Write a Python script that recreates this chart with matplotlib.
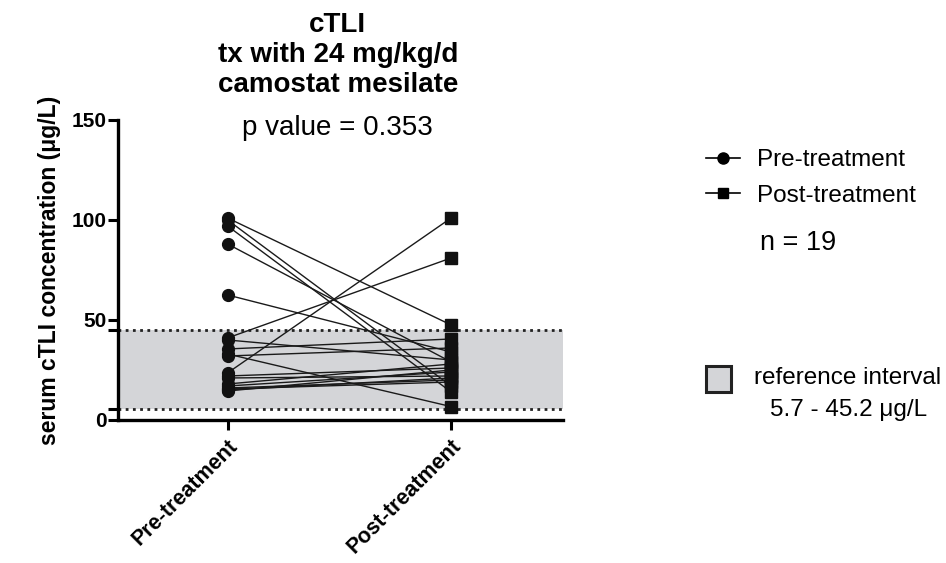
import numpy as np
import matplotlib
matplotlib.use('Agg')
import matplotlib.pyplot as plt
from matplotlib.lines import Line2D
from matplotlib.patches import Rectangle

plt.rcParams['font.family'] = ['Liberation Sans', 'DejaVu Sans']

# cTLI (ug/L) per patient, paired pre/post
groups = ['Pre-treatment', 'Post-treatment']
pre = [101, 100, 97, 88, 62.5, 41, 40, 35.5, 33, 32, 23.5, 22, 21, 18, 17, 16, 15.5, 15, 14.5]
post = [47.5, 17, 14, 29, 34, 81, 30, 40.5, 6.7, 36, 101, 26, 22, 28, 24, 20, 19, 21, 25]
ref_lo, ref_hi = 5.7, 45.2
yticks = [0, 50, 100, 150]
title_lines = ['cTLI', 'tx with 24 mg/kg/d', 'camostat mesilate']

fig = plt.figure(figsize=(9.46, 5.63), dpi=100)
ax = fig.add_axes([0.1247, 0.254, 0.4704, 0.533])

# reference interval band
ax.axhspan(ref_lo, ref_hi, color='#d4d5d8', zorder=0, lw=0)
for v in (ref_lo, ref_hi):
    ax.axhline(v, color='#222222', ls=(0, (1, 1.6)), lw=2.0, zorder=1)

for a, b in zip(pre, post):
    ax.plot([0, 1], [a, b], color='#1a1a1a', lw=1.0, zorder=2)
ax.plot(np.zeros(len(pre)), pre, 'o', color='#111111', ms=8.5, zorder=3)
ax.plot(np.ones(len(post)), post, 's', color='#111111', ms=8, zorder=3)

ax.set_xlim(-0.49, 1.5)
ax.set_ylim(0, 150)
ax.set_yticks(yticks + [ref_lo, ref_hi])
ax.set_yticklabels([str(t) for t in yticks] + ['', ''])
ax.set_xticks([0, 1])
ax.set_xticklabels(groups, rotation=45, ha='right', rotation_mode='anchor',
                   fontsize=15.5, fontweight='bold')
for lab in ax.get_yticklabels():
    lab.set_fontsize(15)
    lab.set_fontweight('bold')
ax.tick_params(axis='both', width=2.2, length=7, direction='out', pad=1)
ax.tick_params(axis='x', pad=4)
for s in ('top', 'right'):
    ax.spines[s].set_visible(False)
for s in ('left', 'bottom'):
    ax.spines[s].set_linewidth(2.4)

ax.set_ylabel('serum cTLI concentration (\u03bcg/L)', fontsize=16.5,
              fontweight='bold', labelpad=8)

# title block
for i, line in enumerate(title_lines):
    fig.text(0.357, 1 - (25 + 30 * i) / 563, line, ha='center', va='center',
             fontsize=20, fontweight='bold')
fig.text(0.357, 1 - 128 / 563, 'p value = 0.353', ha='center', va='center', fontsize=20)

# legend
handles = [Line2D([], [], color='black', lw=1.2, marker='o', ms=8),
           Line2D([], [], color='black', lw=1.2, marker='s', ms=7.5)]
fig.legend(handles, groups, loc='upper left', bbox_to_anchor=(0.736, 0.752),
           frameon=False, fontsize=17.5, handlelength=1.4, handletextpad=0.7,
           labelspacing=0.55, borderaxespad=0)
fig.text(0.803, 1 - 243 / 563, 'n = 19', ha='left', va='center', fontsize=19.5)

fig.add_artist(Rectangle((0.746, 1 - 392 / 563), 0.027, 0.046, transform=fig.transFigure,
                         facecolor='#d4d5d8', edgecolor='#222222', lw=2.2))
fig.text(0.797, 1 - 378 / 563, 'reference interval', ha='left', va='center', fontsize=17.5)
fig.text(0.897, 1 - 410 / 563, '5.7 - 45.2 \u03bcg/L', ha='center', va='center', fontsize=17.5)

fig.savefig('out.png', dpi=100)
